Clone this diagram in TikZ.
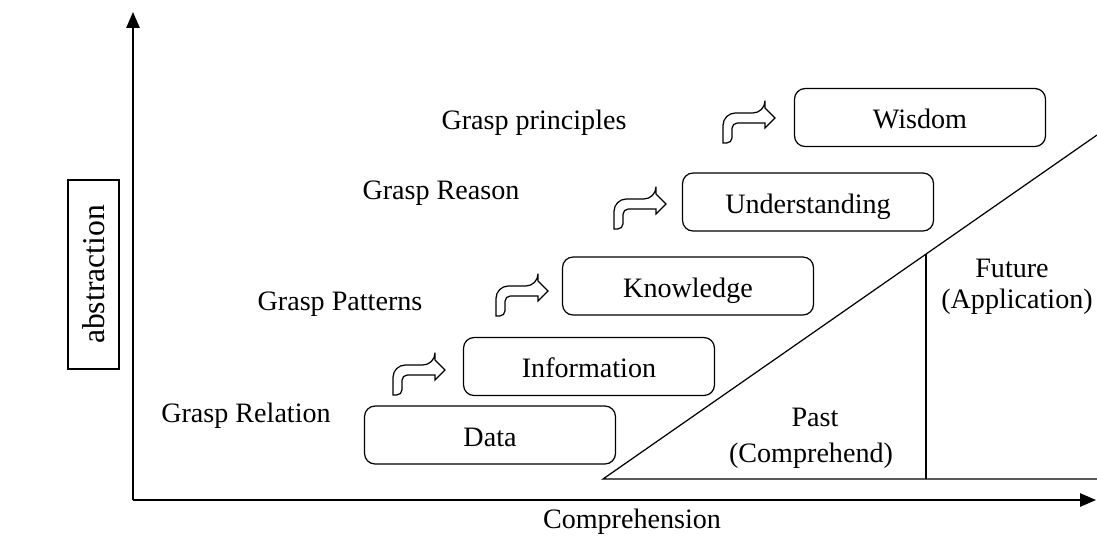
\documentclass[tikz,border=0pt]{standalone}
\usepackage{fontspec}
\setmainfont{Liberation Serif}
\usetikzlibrary{arrows.meta}

\begin{document}
\begin{tikzpicture}[
       x = 0.02cm, y = -0.02cm,
      font = \fontsize{16}{19}\selectfont,
MyBox/.style={draw, line width=0.7pt, rounded corners=6pt, minimum width=5.02cm,
              minimum height=1.16cm, text height=13pt, text depth=0pt},
MyText/.style={anchor=base, inner sep=0pt},
BendArrow/.pic={\draw[line width=0.7pt] (0,0) [rounded corners=7pt] -- (0,-30) -- (42,-30)
                [sharp corners] -- (42,-35) -- (52,-25) -- (42,-15) -- (42,-20)
                [rounded corners=3pt] -- (9,-20) -- (9,0) [sharp corners] -- cycle;},
  ]
\useasboundingbox (0,0) rectangle (1097,538);
% axes
\coordinate (O) at (133,500);
\coordinate (ytop) at (133,12);
\coordinate (xend) at (1096,500);
\draw[line width=1pt, -{Triangle[length=9pt, width=7.5pt]}] (O) -- (ytop);
\draw[line width=1pt, -{Triangle[length=9pt, width=7.5pt]}] (O) -- (xend);
\node [MyText] (comp) at (632,528) {Comprehension};
\node [draw, line width=0.7pt, rotate=90, minimum width=3.78cm, minimum height=1.02cm,
       font=\fontsize{18}{21}\selectfont] (abs) at (93.5,274.5) {abstraction};
% steps
\node [MyBox] (data) at (490,435)   {Data};
\node [MyBox] (info) at (589,366.5) {Information};
\node [MyBox] (know) at (688,286)   {Knowledge};
\node [MyBox] (und)  at (808,202)   {Understanding};
\node [MyBox] (wis)  at (920,117.5) {Wisdom};
\pic at (393,395) {BendArrow};
\pic at (496,316) {BendArrow};
\pic at (614,229) {BendArrow};
\pic at (723,143) {BendArrow};
\node [MyText] (rel) at (246,422) {Grasp Relation};
\node [MyText] (pat) at (340,310) {Grasp Patterns};
\node [MyText] (rea) at (441,199) {Grasp Reason};
\node [MyText] (pri) at (534,129) {Grasp principles};
% past / future
\coordinate (t1) at (603,479);
\coordinate (t2) at (1097,135);
\coordinate (t3) at (1097,479);
\coordinate (d1) at (926,254);
\coordinate (d2) at (926,479);
\draw[line width=0.7pt] (t2) -- (t1) -- (t3);
\draw[line width=0.7pt] (d1) -- (d2);
\node [MyText] (past) at (815,426) {Past};
\node [MyText] (comh) at (811,462) {(Comprehend)};
\node [MyText] (fut)  at (1012,277) {Future};
\node [MyText] (app)  at (1017,308) {(Application)};
\end{tikzpicture}
\end{document}
